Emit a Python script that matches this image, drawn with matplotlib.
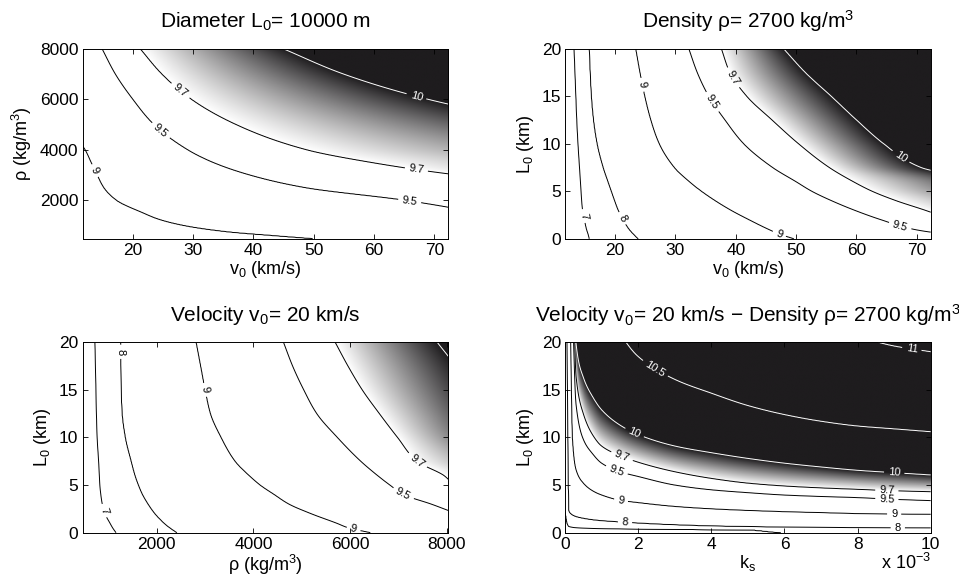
"""Four contour maps of the log10 output vs (v0, rho, L0, ks).

Each field is rebuilt from where the contour lines cross a set of rows
(or columns) read off the original figure; grey shading runs from
white at 9.7 to black at 10.
"""
import numpy as np
import matplotlib
matplotlib.use("Agg")
import matplotlib.pyplot as plt
from matplotlib.colors import LinearSegmentedColormap

nan = np.nan
LEVELS = [7, 8, 9, 9.5, 9.7, 10, 10.5, 11]

# --- panel 1: L0 = 10000 m, x = v0 (km/s), rows of rho (kg/m^3) ---
P1_V_SPAN = (11.7, 72.3)
P1_RHO = [480, 600, 750, 1000, 1250, 1500, 2000, 2500, 3000, 3500, 4000, 5000, 6000, 7000, 8000]
P1_LEFT = [8.0, 8.1, 8.2, 8.35, 8.45, 8.55, 8.7, 8.8, 8.87, 8.93, 8.98, 9.1, 9.2, 9.28, 9.35]
P1_RIGHT = [9.08, 9.15, 9.25, 9.35, 9.4, 9.45, 9.53, 9.6, 9.69, 9.75, 9.8, 9.9, 10.02, 10.15, 10.25]
P1_V9 = [49.8, 43.4, 35.8, 28.5, 24.3, 21.7, 17.3, 15.2, 14.1, 13.1, 12.1, nan, nan, nan, nan]
P1_V95 = [nan, nan, nan, nan, nan, nan, 65.2, 48.6, 39.4, 33.3, 29.1, 23.5, 20.0, 17.1, 14.9]
P1_V97 = [nan, nan, nan, nan, nan, nan, nan, nan, nan, 59.5, 48.8, 37.1, 29.7, 24.8, 21.2]
P1_V10 = [nan, nan, nan, nan, nan, nan, nan, nan, nan, nan, nan, nan, 68.9, 54.9, 44.9]

# --- panel 2: rho = 2700, x = v0 (km/s), rows of L0 (km) ---
P2_V_SPAN = (11.7, 72.3)
P2_L = [0, 0.5, 1, 2, 3, 4, 5, 6, 7.5, 10, 12.5, 15, 17.5, 20]
P2_LEFT = [6.0, 6.1, 6.2, 6.3, 6.35, 6.4, 6.42, 6.45, 6.5, 6.55, 6.58, 6.6, 6.62, 6.65]
P2_RIGHT = [9.3, 9.45, 9.55, 9.64, 9.71, 9.76, 9.82, 9.87, 10.02, 10.1, 10.18, 10.25, 10.3, 10.35]
P2_V7 = [15.7, 15.5, 15.25, 14.9, 14.6, 14.45, 14.35, 14.25, 14.1, 13.85, 13.65, 13.5, 13.35, 13.2]
P2_V8 = [23.8, 23.0, 22.3, 21.3, 20.5, 19.9, 19.35, 18.8, 18.0, 17.0, 16.4, 16.05, 15.85, 15.7]
P2_V9 = [49.6, 47.2, 45.4, 42.2, 39.2, 36.6, 34.3, 32.3, 29.8, 27.3, 25.9, 24.9, 24.1, 23.4]
P2_V95 = [nan, nan, 69.5, 64.1, 59.7, 55.9, 52.6, 50.0, 46.1, 41.3, 38.2, 35.5, 33.6, 32.2]
P2_V97 = [nan, nan, nan, nan, 71.4, 66.6, 62.6, 59.5, 55.5, 50.4, 46.0, 41.8, 39.0, 37.6]
P2_V10 = [nan, nan, nan, nan, nan, nan, nan, nan, 70.7, 64.5, 60.0, 55.8, 51.5, 47.9]

# --- panel 3: v0 = 20 km/s, x = rho (kg/m^3), rows of L0 (km) ---
P3_RHO_SPAN = (470, 8030)
P3_L = [0, 0.5, 1, 2, 3, 4, 5, 6, 7.5, 10, 12.5, 15, 17.5, 20]
P3_LEFT = [6.3, 6.35, 6.4, 6.45, 6.5, 6.52, 6.55, 6.57, 6.6, 6.62, 6.64, 6.66, 6.68, 6.7]
P3_RIGHT = [9.2, 9.3, 9.37, 9.47, 9.56, 9.62, 9.68, 9.71, 9.77, 9.85, 9.9, 9.94, 9.98, 10.03]
P3_R7 = [1159, 1090, 1034, 930, 875, 845, 825, 815, 800, 770, 755, 745, 735, 724]
P3_R8 = [2414, 2270, 2150, 1960, 1820, 1705, 1620, 1550, 1470, 1350, 1285, 1265, 1258, 1255]
P3_R9 = [6414, 5966, 5716, 5187, 4733, 4430, 4138, 3910, 3620, 3330, 3110, 3000, 2907, 2814]
P3_R95 = [nan, nan, nan, nan, 7678, 7103, 6822, 6567, 6220, 5736, 5310, 5040, 4810, 4621]
P3_R97 = [nan, nan, nan, nan, nan, nan, nan, 7940, 7380, 6980, 6605, 6250, 5955, 5690]
P3_R10 = [nan, nan, nan, nan, nan, nan, nan, nan, nan, nan, nan, nan, nan, 7800]

# --- panel 4: v0 = 20 km/s, rho = 2700, columns of ks (x 1e-3), L0 (km) up ---
P4_L_SPAN = (0, 20)
P4_KS = [0, 0.05, 0.1, 0.15, 0.2, 0.3, 0.5, 0.75, 1.0, 1.5, 2, 3, 4, 5, 6, 7, 8, 9, 10]
P4_BOTTOM = [6.0, 6.2, 6.3, 6.35, 6.4, 6.5, 6.6, 6.65, 6.7, 6.75, 6.8, 6.85, 6.9, 6.95, 7.02, 7.06, 7.1, 7.13, 7.15]
P4_TOP = [7.6, 7.95, 8.6, 8.95, 9.35, 10.01, 10.15, 10.25, 10.3, 10.45, 10.55, 10.65, 10.75, 10.82, 10.88, 10.93, 10.97, 11.01, 11.03]
P4_L7 = [2.1, 1.0, 0.65, 0.6, 0.56, 0.52, 0.48, 0.45, 0.43, 0.4, 0.38, 0.35, 0.32, 0.3, nan, nan, nan, nan, nan]
P4_L8 = [nan, nan, 2.3, 2.0, 1.85, 1.68, 1.5, 1.35, 1.25, 1.12, 1.0, 0.82, 0.7, 0.63, 0.58, 0.55, 0.53, 0.5, 0.49]
P4_L9 = [nan, nan, nan, nan, 9.9, 6.6, 5.2, 4.4, 3.95, 3.4, 3.15, 2.75, 2.5, 2.33, 2.2, 2.1, 2.0, 1.95, 1.93]
P4_L95 = [nan, nan, nan, nan, nan, 13.5, 9.8, 8.3, 7.3, 6.4, 5.9, 5.0, 4.5, 4.2, 3.95, 3.8, 3.68, 3.5, 3.36]
P4_L97 = [nan, nan, nan, nan, nan, 16.5, 12.5, 10.3, 9.1, 8.1, 7.4, 6.4, 5.7, 5.2, 4.9, 4.7, 4.55, 4.4, 4.3]
P4_L10 = [nan, nan, nan, nan, nan, 19.9, 16.3, 14.3, 12.9, 11.3, 10.3, 9.1, 8.4, 7.8, 7.3, 6.9, 6.55, 6.3, 6.06]
P4_L105 = [nan, nan, nan, nan, nan, nan, nan, nan, nan, nan, 18.5, 16.1, 14.65, 13.35, 12.4, 11.7, 11.2, 10.9, 10.6]
P4_L11 = [nan, nan, nan, nan, nan, nan, nan, nan, nan, nan, nan, nan, nan, nan, nan, nan, nan, 19.6, 19.0]

W = np.linspace(5.0, 12.0, 1401)   # value axis used to carry crossings between rows
SHADE = LinearSegmentedColormap.from_list("shade", ["#ffffff", "#1e1c1e"])


def inverse_row(lo, hi, span, table, i):
    """x(value) along read row i, linear between knots, extended past the edges."""
    pts = [(span[0], lo[i]), (span[1], hi[i])]
    pts += [(c[i], lev) for lev, c in table if not np.isnan(c[i])]
    pts.sort()
    x = np.array([p[0] for p in pts], float)
    v = np.array([p[1] for p in pts], float)
    X = np.interp(W, v, x)
    s0 = (x[1] - x[0]) / (v[1] - v[0])
    s1 = (x[-1] - x[-2]) / (v[-1] - v[-2])
    X = np.where(W < v[0], x[0] + (W - v[0]) * s0, X)
    X = np.where(W > v[-1], x[-1] + (W - v[-1]) * s1, X)
    return X


def pchip_rows(rows, Xr, fine):
    """Monotone cubic (pchip) between the read rows, for every value in W."""
    y = np.asarray(rows, float)
    h = np.diff(y)
    d = np.diff(Xr, axis=0) / h[:, None]
    m = np.zeros_like(Xr)
    m[0], m[-1] = d[0], d[-1]
    w1 = (2 * h[1:] + h[:-1])[:, None]
    w2 = (h[1:] + 2 * h[:-1])[:, None]
    with np.errstate(divide="ignore", invalid="ignore"):
        hm = (w1 + w2) / (w1 / d[:-1] + w2 / d[1:])
    m[1:-1] = np.where(d[:-1] * d[1:] > 0, hm, 0.0)
    k = np.clip(np.searchsorted(y, fine) - 1, 0, len(y) - 2)
    t = ((fine - y[k]) / h[k])[:, None]
    hk = h[k][:, None]
    out = ((2 * t**3 - 3 * t**2 + 1) * Xr[k] + (t**3 - 2 * t**2 + t) * hk * m[k]
           + (-2 * t**3 + 3 * t**2) * Xr[k + 1] + (t**3 - t**2) * hk * m[k + 1])
    return np.maximum.accumulate(out, axis=1)


def build(rows, lo, hi, span, table, fine_x, fine_y):
    Xr = np.array([inverse_row(lo, hi, span, table, i) for i in range(len(rows))])
    Xf = pchip_rows(rows, Xr, fine_y)
    return np.array([np.interp(fine_x, Xf[j], W) for j in range(fine_y.size)])


def draw(ax, x, y, Z, labels):
    ax.imshow(Z, extent=[x[0], x[-1], y[0], y[-1]], origin="lower", aspect="auto",
              cmap=SHADE, vmin=9.7, vmax=10, interpolation="bilinear")
    cs = ax.contour(x, y, Z, levels=LEVELS, linewidths=0.7,
                    colors=["k" if l < 10 else "w" for l in LEVELS])
    ax.clabel(cs, manual=labels, inline=True, fontsize=8, fmt="%g", inline_spacing=4)


plt.rcParams["font.family"] = ["Liberation Sans", "DejaVu Sans"]
plt.rcParams["mathtext.fontset"] = "custom"
plt.rcParams["mathtext.rm"] = "Liberation Sans"
plt.rcParams["mathtext.it"] = "Liberation Sans"
plt.rcParams["mathtext.bf"] = "Liberation Sans:bold"
TICK, LAB, TIT = 12.5, 13, 15

fig = plt.figure(figsize=(9.59, 5.83), dpi=100)
axes = [fig.add_axes([0.0862, 0.5903, 0.3813, 0.3262]),
        fig.add_axes([0.5892, 0.5903, 0.3813, 0.3262]),
        fig.add_axes([0.0862, 0.0863, 0.3813, 0.3266]),
        fig.add_axes([0.5892, 0.0863, 0.3813, 0.3266])]

# panel 1
v = np.linspace(*P1_V_SPAN, 500)
rho_f = np.linspace(P1_RHO[0], P1_RHO[-1], 300)
Z1 = build(P1_RHO, P1_LEFT, P1_RIGHT, P1_V_SPAN,
           [(9, P1_V9), (9.5, P1_V95), (9.7, P1_V97), (10, P1_V10)], v, rho_f)
ax = axes[0]
draw(ax, v, rho_f, Z1, [(13.7, 3175), (24.5, 4721), (65.9, 1985), (27.8, 6308),
                        (67, 3200), (67, 6110)])
ax.set_xlim(*P1_V_SPAN); ax.set_ylim(480, 8000)
ax.set_xticks([20, 30, 40, 50, 60, 70]); ax.set_yticks([2000, 4000, 6000, 8000])
ax.set_xlabel("v$_0$ (km/s)", fontsize=LAB, labelpad=1)
ax.set_ylabel("ρ (kg/m$^3$)", fontsize=LAB)
ax.set_title("Diameter L$_0$= 10000 m", fontsize=TIT, pad=15)

# panel 2
v = np.linspace(*P2_V_SPAN, 500)
L_f = np.linspace(0, 20, 300)
Z2 = build(P2_L, P2_LEFT, P2_RIGHT, P2_V_SPAN,
           [(7, P2_V7), (8, P2_V8), (9, P2_V9), (9.5, P2_V95), (9.7, P2_V97),
            (10, P2_V10)], v, L_f)
ax = axes[1]
draw(ax, v, L_f, Z2, [(14.8, 2.4), (20.9, 2.1), (24.5, 16.2), (47.2, 0.5),
                      (36.1, 14.4), (67.2, 1.3), (39.4, 16.9), (67.2, 8.5)])
ax.set_xlim(*P2_V_SPAN); ax.set_ylim(0, 20)
ax.set_xticks([20, 30, 40, 50, 60, 70]); ax.set_yticks([0, 5, 10, 15, 20])
ax.set_xlabel("v$_0$ (km/s)", fontsize=LAB, labelpad=1)
ax.set_ylabel("L$_0$ (km)", fontsize=LAB)
ax.set_title("Density ρ= 2700 kg/m$^3$", fontsize=TIT, pad=15)

# panel 3
rho = np.linspace(*P3_RHO_SPAN, 500)
Z3 = build(P3_L, P3_LEFT, P3_RIGHT, P3_RHO_SPAN,
           [(7, P3_R7), (8, P3_R8), (9, P3_R9), (9.5, P3_R95), (9.7, P3_R97),
            (10, P3_R10)], rho, L_f)
ax = axes[2]
draw(ax, rho, L_f, Z3, [(910, 2.3), (1255, 19.0), (3000, 15.0), (6069, 0.31),
                        (7103, 4.1), (7379, 7.5)])
ax.set_xlim(*P3_RHO_SPAN); ax.set_ylim(0, 20)
ax.set_xticks([2000, 4000, 6000, 8000]); ax.set_yticks([0, 5, 10, 15, 20])
ax.set_xlabel("ρ (kg/m$^3$)", fontsize=LAB, labelpad=1)
ax.set_ylabel("L$_0$ (km)", fontsize=LAB)
ax.set_title("Velocity v$_0$= 20 km/s", fontsize=TIT, pad=15)

# panel 4 (built column by column, then transposed)
ks_f = np.linspace(0, 10, 801)
Z4 = build(P4_KS, P4_BOTTOM, P4_TOP, P4_L_SPAN,
           [(7, P4_L7), (8, P4_L8), (9, P4_L9), (9.5, P4_L95), (9.7, P4_L97),
            (10, P4_L10), (10.5, P4_L105), (11, P4_L11)], L_f, ks_f)
ax = axes[3]
draw(ax, ks_f, L_f, Z4.T, [(1.64, 1.09), (9.1, 0.5), (1.53, 3.36), (9.0, 1.95),
                           (1.4, 6.4), (8.8, 3.5), (1.57, 8.16), (8.8, 4.45),
                           (1.89, 10.4), (9.0, 6.2), (2.44, 17.1), (9.48, 19.2)])
ax.set_xlim(0, 10); ax.set_ylim(0, 20)
ax.set_xticks([0, 2, 4, 6, 8, 10]); ax.set_yticks([0, 5, 10, 15, 20])
ax.set_xlabel("k$_s$", fontsize=LAB, labelpad=1)
ax.set_ylabel("L$_0$ (km)", fontsize=LAB)
ax.set_title("Velocity v$_0$= 20 km/s − Density ρ= 2700 kg/m$^3$", fontsize=TIT, pad=15)
ax.text(1.0, -0.16, "x 10$^{-3}$", transform=ax.transAxes, ha="right", va="center",
        fontsize=LAB)

for ax in axes:
    ax.tick_params(direction="in", length=3.5, width=0.6, top=True, right=True,
                   labelsize=TICK, pad=3)
    for s in ax.spines.values():
        s.set_linewidth(0.7)

fig.savefig("out.png", dpi=100)
